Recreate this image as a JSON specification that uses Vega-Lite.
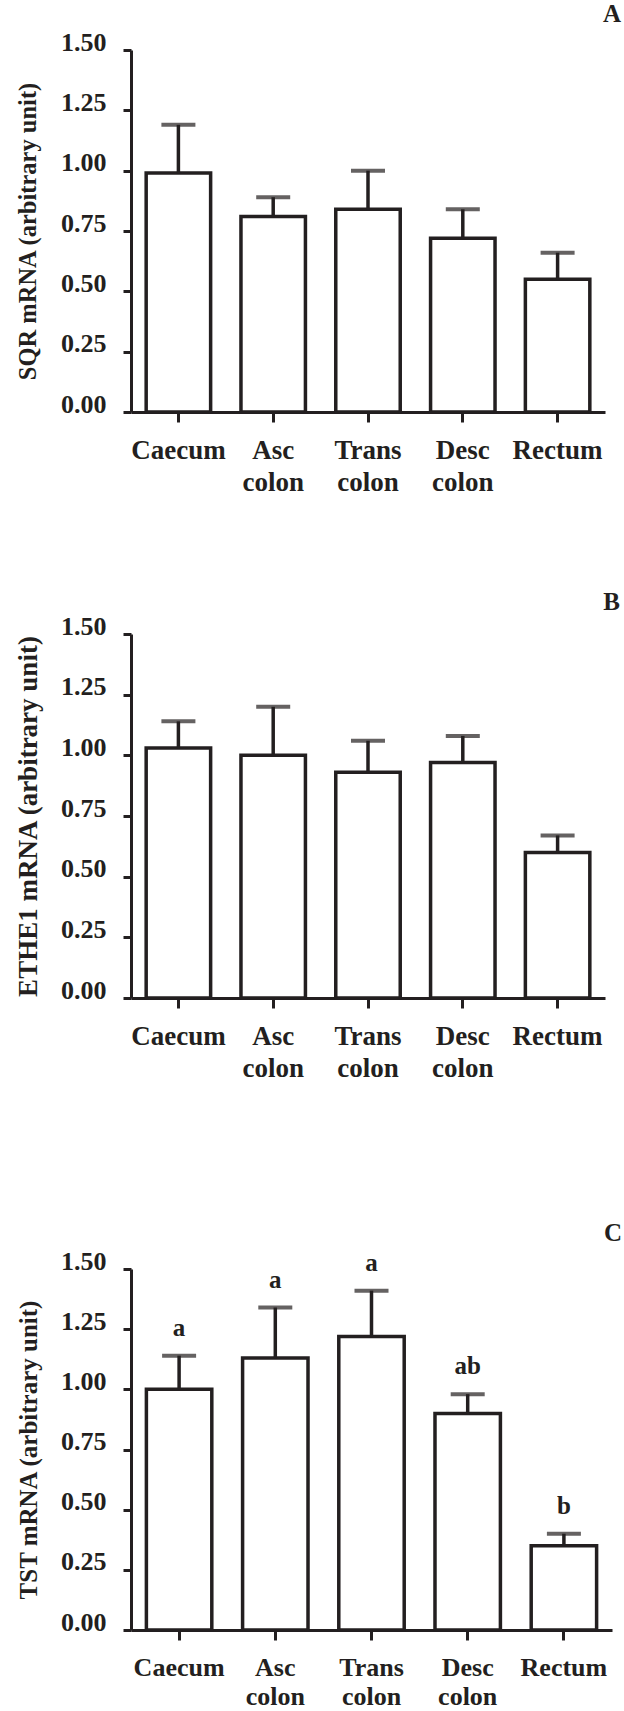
{
  "$schema": "https://vega.github.io/schema/vega-lite/v6.json",
  "padding": {"left": 14, "top": 2, "right": 0, "bottom": 0},
  "background": "white",
  "config": {
    "view": {"stroke": null},
    "axis": {"domainColor": "#231f20", "domainWidth": 3, "tickColor": "#231f20", "tickWidth": 3, "labelColor": "#231f20", "titleColor": "#231f20", "labelFont": "Liberation Serif", "titleFont": "Liberation Serif", "labelFontWeight": "bold", "titleFontWeight": "bold", "grid": false},
    "title": {"font": "Liberation Serif", "fontWeight": "bold", "fontSize": 25, "color": "#231f20", "anchor": "end", "frame": "group", "baseline": "alphabetic"}
  },
  "datasets": {
    "A": [
      {"region": "Caecum", "mean": 0.99, "upper": 1.19},
      {"region": "Asc colon", "mean": 0.81, "upper": 0.89},
      {"region": "Trans colon", "mean": 0.84, "upper": 1.00},
      {"region": "Desc colon", "mean": 0.72, "upper": 0.84},
      {"region": "Rectum", "mean": 0.55, "upper": 0.66}
    ],
    "B": [
      {"region": "Caecum", "mean": 1.03, "upper": 1.14},
      {"region": "Asc colon", "mean": 1.00, "upper": 1.20},
      {"region": "Trans colon", "mean": 0.93, "upper": 1.06},
      {"region": "Desc colon", "mean": 0.97, "upper": 1.08},
      {"region": "Rectum", "mean": 0.60, "upper": 0.67}
    ],
    "C": [
      {"region": "Caecum", "mean": 1.00, "upper": 1.14, "sig": "a"},
      {"region": "Asc colon", "mean": 1.13, "upper": 1.34, "sig": "a"},
      {"region": "Trans colon", "mean": 1.22, "upper": 1.41, "sig": "a"},
      {"region": "Desc colon", "mean": 0.90, "upper": 0.98, "sig": "ab"},
      {"region": "Rectum", "mean": 0.35, "upper": 0.40, "sig": "b"}
    ]
  },
  "spacing": 95,
  "vconcat": [
    {
      "width": 474, "height": 362,
      "title": {"text": "A", "dx": 16, "offset": 2},
      "data": {"name": "A"},
      "encoding": {
        "x": {"field": "region", "type": "nominal", "sort": null, "scale": {"paddingInner": 0.32, "paddingOuter": 0.16},
          "axis": {"title": null, "labelAngle": 0, "labelExpr": "split(datum.label, ' ')", "labelLineHeight": 32, "labelFontSize": 27, "tickSize": 10, "labelPadding": 15, "labelBaseline": "top"}}
      },
      "layer": [
        {"mark": {"type": "bar", "fill": "white", "stroke": "#231f20", "strokeWidth": 3.5},
          "encoding": {"y": {"field": "mean", "type": "quantitative", "scale": {"domain": [0, 1.5], "nice": false},
            "axis": {"title": "SQR mRNA (arbitrary unit)", "values": [0, 0.25, 0.5, 0.75, 1, 1.25, 1.5], "format": ".2f", "labelBaseline": "alphabetic", "tickSize": 8, "labelPadding": 17, "labelFontSize": 26, "titleFontSize": 24.5, "titlePadding": 20}}}},
        {"mark": {"type": "rule", "color": "#231f20", "strokeWidth": 3.5},
          "encoding": {"y": {"field": "mean", "type": "quantitative"}, "y2": {"field": "upper"}}},
        {"mark": {"type": "tick", "color": "#231f20", "size": 34, "thickness": 4},
          "encoding": {"y": {"field": "upper", "type": "quantitative"}}}
      ]
    },
    {
      "spacing": 140,
      "vconcat": [
        {
          "width": 474, "height": 364,
          "title": {"text": "B", "dx": 15, "offset": -2},
          "data": {"name": "B"},
          "encoding": {
            "x": {"field": "region", "type": "nominal", "sort": null, "scale": {"paddingInner": 0.32, "paddingOuter": 0.16},
              "axis": {"title": null, "labelAngle": 0, "labelExpr": "split(datum.label, ' ')", "labelLineHeight": 32, "labelFontSize": 27, "tickSize": 10, "labelPadding": 15, "labelBaseline": "top"}}
          },
          "layer": [
            {"mark": {"type": "bar", "fill": "white", "stroke": "#231f20", "strokeWidth": 3.5},
              "encoding": {"y": {"field": "mean", "type": "quantitative", "scale": {"domain": [0, 1.5], "nice": false},
                "axis": {"title": "ETHE1 mRNA  (arbitrary unit)", "values": [0, 0.25, 0.5, 0.75, 1, 1.25, 1.5], "format": ".2f", "labelBaseline": "alphabetic", "tickSize": 8, "labelPadding": 17, "labelFontSize": 26, "titleFontSize": 27, "titlePadding": 18}}}},
            {"mark": {"type": "rule", "color": "#231f20", "strokeWidth": 3.5},
              "encoding": {"y": {"field": "mean", "type": "quantitative"}, "y2": {"field": "upper"}}},
            {"mark": {"type": "tick", "color": "#231f20", "size": 34, "thickness": 4},
              "encoding": {"y": {"field": "upper", "type": "quantitative"}}}
          ]
        },
        {
          "width": 481, "height": 361,
          "title": {"text": "C", "dx": 10, "offset": 2},
          "data": {"name": "C"},
          "encoding": {
            "x": {"field": "region", "type": "nominal", "sort": null, "scale": {"paddingInner": 0.32, "paddingOuter": 0.16},
              "axis": {"title": null, "labelAngle": 0, "labelExpr": "split(datum.label, ' ')", "labelLineHeight": 29, "labelFontSize": 26, "tickSize": 10, "labelPadding": 14, "labelBaseline": "top"}}
          },
          "layer": [
            {"mark": {"type": "bar", "fill": "white", "stroke": "#231f20", "strokeWidth": 3.5},
              "encoding": {"y": {"field": "mean", "type": "quantitative", "scale": {"domain": [0, 1.5], "nice": false},
                "axis": {"title": "TST mRNA (arbitrary unit)", "values": [0, 0.25, 0.5, 0.75, 1, 1.25, 1.5], "format": ".2f", "labelBaseline": "alphabetic", "tickSize": 8, "labelPadding": 17, "labelFontSize": 26, "titleFontSize": 25, "titlePadding": 19.5}}}},
            {"mark": {"type": "rule", "color": "#231f20", "strokeWidth": 3.5},
              "encoding": {"y": {"field": "mean", "type": "quantitative"}, "y2": {"field": "upper"}}},
            {"mark": {"type": "tick", "color": "#231f20", "size": 34, "thickness": 4},
              "encoding": {"y": {"field": "upper", "type": "quantitative"}}},
            {"mark": {"type": "text", "baseline": "alphabetic", "dy": -20, "fontSize": 25, "fontWeight": "bold", "font": "Liberation Serif", "color": "#231f20"},
              "encoding": {"y": {"field": "upper", "type": "quantitative"}, "text": {"field": "sig"}}}
          ]
        }
      ]
    }
  ]
}
